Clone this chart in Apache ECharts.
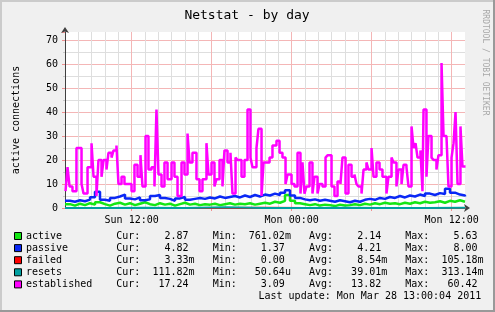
<!DOCTYPE html>
<html><head><meta charset="utf-8">
<script src="https://cdn.jsdelivr.net/npm/echarts@6/dist/echarts.min.js"></script>
<style>html,body{margin:0;padding:0;background:#f0f0f0}#c{width:495px;height:312px}</style>
</head><body><div id="c"></div>
<script>
// ---- data (hours since Sun 00:00) ----
const xLabelHours = [12, 24, 36];
const xLabels = ['Sun 12:00', 'Mon 00:00', 'Mon 12:00'];
const majorHours = [12, 18, 24, 30, 36];

const estTimes = [
 7.04,7.19,7.34,7.56,7.86,8.24,8.39,8.69,8.99,9.14,
 9.36,9.51,9.74,9.89,10.11,10.26,10.49,10.64,10.86,11.01,
 11.24,11.46,11.69,11.99,12.21,12.44,12.66,12.81,13.04,13.26,
 13.49,13.71,13.86,14.01,14.24,14.46,14.69,14.99,15.21,15.44,
 15.74,15.96,16.19,16.34,16.56,16.86,17.09,17.31,17.61,17.76,
 17.99,18.21,18.36,18.59,18.81,18.96,19.19,19.41,19.56,19.79,
 19.94,20.24,20.46,20.69,20.91,21.06,21.36,21.51,21.74,21.89,
 22.11,22.34,22.56,22.86,23.09,23.31,23.54,23.69,23.99,24.21,
 24.44,24.66,24.81,24.96,25.11,25.34,25.56,25.71,25.94,26.09,
 26.31,26.54,26.69,26.99,27.21,27.44,27.66,27.81,28.04,28.26,
 28.49,28.71,28.86,29.01,29.24,29.39,29.61,29.76,29.99,30.14,
 30.36,30.59,30.81,31.11,31.26,31.49,31.64,31.86,32.01,32.24,
 32.39,32.61,32.76,32.99,33.14,33.29,33.44,33.66,33.81,33.89,
 34.11,34.26,34.49,34.64,34.86,35.01,35.24,35.39,35.61,35.76,
 35.99,36.14,36.29,36.44,36.66,36.81,37.04
];
const established = [
 7,17,9,7,25,10,6,17,27,13,
 5,20,13,20,16,23,21,24,26,10,
 13,10,10,7,18,13,22,9,30,16,
 17,9,41,14,9,19,12,19,13,5,
 19,14,31,19,23,12,7,12,27,14,
 19,9,12,20,9,24,19,23,6,21,
 20,13,20,41,21,17,25,33,5,19,
 19,21,26,28,23,21,10,14,10,9,
 23,6,19,6,9,19,6,13,6,10,
 9,21,22,9,5,11,10,21,6,18,
 13,14,10,9,6,16,19,16,25,13,
 19,16,13,6,13,21,19,9,16,10,
 18,17,9,34,25,27,21,24,7,41,
 13,30,21,20,16,22,60.4,30,30,9,
 21,27,40,10,34,17.24,17.24
];
// passive / active sampled every 0.375 h from 7.0
const pa_start = 7.0, pa_step = 0.375;
const passive = [
 3.0,2.6,3.2,2.8,3.5,4.5,6.8,3.4,3.0,4.2,
 4.8,5.6,4.0,3.6,4.4,3.2,3.6,5.0,5.4,4.2,
 3.8,3.0,4.0,4.6,3.4,3.8,4.2,3.8,4.4,4.0,
 4.8,4.2,4.6,5.0,4.4,5.2,4.6,5.4,4.8,5.6,
 5.2,6.0,5.4,6.4,7.4,5.2,4.2,3.6,3.2,3.6,
 3.0,3.4,3.0,2.6,3.2,2.8,2.4,3.0,2.6,3.4,
 3.8,3.4,4.2,3.8,4.6,4.2,5.0,4.4,5.2,4.8,
 5.6,5.0,6.0,5.4,6.2,5.8,8.0,6.4,5.6,5.2,
 4.82
];
const active = [
 1.6,1.0,1.8,1.2,2.0,1.4,2.4,1.6,1.0,1.8,
 2.2,1.4,2.0,1.2,1.8,2.4,1.6,1.2,2.0,1.4,
 1.8,1.0,1.6,2.2,1.4,1.8,1.2,1.6,1.4,1.8,
 1.2,1.6,2.0,1.4,1.8,1.6,2.0,1.4,1.8,2.2,
 1.8,2.6,2.2,3.0,5.4,3.0,2.0,1.6,1.2,1.6,
 1.0,1.4,1.2,0.8,1.4,1.0,1.2,1.6,1.2,1.8,
 1.4,2.0,1.6,2.2,1.8,2.0,1.6,2.2,1.8,2.4,
 2.0,2.6,2.2,2.4,2.8,2.2,3.0,2.6,3.2,2.6,
 2.87
];
const fr_times = [7,10,13,16,19,22,25,28,31,34,37];
const failed = [0,0.01,0,0,0.02,0.1,0,0.01,0,0,0.003];
const resets = [0.02,0.05,0.1,0.03,0.31,0.04,0.02,0.06,0.03,0.05,0.11];

// legend table
const names = ['active','passive','failed','resets','established'];
const colors = ['#14e614','#0a28f5','#ff0000','#00a0a0','#ff00ff'];
const curV = ['2.87','4.82','3.33m','111.82m','17.24'];
const minV = ['761.02m','1.37','0.00','50.64u','3.09'];
const avgV = ['2.14','4.21','8.54m','39.01m','13.82'];
const maxV = ['5.63','8.00','105.18m','313.14m','60.42'];
const lastUpdate = 'Last update: Mon Mar 28 13:00:04 2011';

// ---- build ----
const MONO = "'DejaVu Sans Mono', monospace";
const yMax = 176 / 2.4;
const hourCats = []; for (let h = 7; h <= 37; h++) hourCats.push(String(h));
const pairs = (ts, vs) => vs.map((v, i) => [ts[i], v]);
const paTimes = passive.map((_, i) => pa_start + i * pa_step);

function fmt(s) {
  const last = s[s.length - 1];
  const hasSuf = /[a-z]/i.test(last);
  const num = hasSuf ? s.slice(0, -1) : s;
  return num.padStart(8) + (hasSuf ? last : ' ');
}
function row(i) {
  return names[i].padEnd(15) + 'Cur:' + fmt(curV[i]) + '   Min:' + fmt(minV[i]) +
    '   Avg:' + fmt(avgV[i]) + '   Max:' + fmt(maxV[i]);
}
function txt(x, y, text, o) {
  o = o || {};
  return { type: 'text', x: x, y: y, rotation: o.rot || 0, silent: true, z: 100,
    style: { text: text, fill: o.fill || '#000', fontSize: o.size || 10, fontFamily: MONO,
      textAlign: o.align || 'left', align: o.align || 'left',
      textVerticalAlign: 'middle', verticalAlign: 'middle' } };
}
const gfx = [
  { type: 'rect', shape: { x: 0, y: 0, width: 495, height: 2 }, style: { fill: '#cbcbcb' }, silent: true },
  { type: 'rect', shape: { x: 0, y: 0, width: 2, height: 312 }, style: { fill: '#cbcbcb' }, silent: true },
  { type: 'rect', shape: { x: 0, y: 310, width: 495, height: 2 }, style: { fill: '#999999' }, silent: true },
  { type: 'rect', shape: { x: 493, y: 0, width: 2, height: 312 }, style: { fill: '#999999' }, silent: true },
  txt(247, 16, 'Netstat - by day', { align: 'center', size: 13 }),
  txt(16, 120, 'active connections', { align: 'center', rot: Math.PI / 2 }),
  txt(485, 62.5, 'RRDTOOL / TOBI OETIKER', { align: 'center', rot: -Math.PI / 2, size: 8, fill: '#a8a8a8' }),
  txt(258.5, 296.5, lastUpdate)
];
for (let i = 0; i < names.length; i++) {
  const y = 236 + 12.1 * i;
  gfx.push({ type: 'rect', shape: { x: 14.5, y: y - 3.5, width: 7, height: 7 },
    style: { fill: colors[i], stroke: '#000', lineWidth: 1 }, silent: true, z: 100 });
  gfx.push(txt(26, y, row(i)));
}

const mk = (name, data, color, step, w) => ({
  name: name, type: 'line', data: data, step: step || false, showSymbol: false,
  xAxisIndex: 0, yAxisIndex: 0, lineStyle: { color: color, width: w || 2 }, itemStyle: { color: color },
  emphasis: { disabled: true }, clip: true
});

const option = {
  animation: false,
  backgroundColor: '#f0f0f0',
  grid: { left: 65, top: 32, width: 400, height: 176, show: true, backgroundColor: '#ffffff', borderWidth: 0 },
  xAxis: [
    { type: 'value', min: 7, max: 37, interval: 1, position: 'bottom',
      axisLine: { show: true, onZero: false, lineStyle: { color: '#404040', width: 1 }, symbol: ['none', 'arrow'], symbolSize: [6, 6], symbolOffset: [0, 5] },
      axisTick: { show: false }, axisLabel: { show: false },
      splitLine: { show: true, showMaxLine: false, lineStyle: { color: '#dedede', width: 1 } } },
    { type: 'category', data: hourCats, boundaryGap: false, position: 'bottom',
      axisLine: { show: false },
      axisTick: { show: true, length: 3, interval: (i, v) => majorHours.includes(+v), lineStyle: { color: '#f09090' } },
      axisLabel: { interval: (i, v) => xLabelHours.includes(+v), formatter: v => xLabels[xLabelHours.indexOf(+v)] || '',
        fontFamily: MONO, fontSize: 10, color: '#000', margin: 7 },
      splitLine: { show: true, interval: (i, v) => majorHours.includes(+v), lineStyle: { color: '#f4b6b6', width: 1 } } }
  ],
  yAxis: [
    { type: 'value', min: 0, max: yMax, interval: 5, position: 'left',
      axisLine: { show: true, onZero: false, lineStyle: { color: '#404040', width: 1 }, symbol: ['none', 'arrow'], symbolSize: [6, 6], symbolOffset: [0, 5] },
      axisTick: { show: true, length: 2, lineStyle: { color: '#c8c8c8' } }, axisLabel: { show: false },
      splitLine: { show: true, showMaxLine: false, lineStyle: { color: '#dedede', width: 1 } } },
    { type: 'value', min: 0, max: yMax, interval: 10, position: 'left',
      axisLine: { show: false },
      axisTick: { show: true, length: 3, lineStyle: { color: '#f09090' } },
      axisLabel: { fontFamily: MONO, fontSize: 10, color: '#000', margin: 7,
        formatter: v => (Math.abs(v % 10) < 1e-6 ? String(Math.round(v)) : '') },
      splitLine: { show: true, showMaxLine: false, showMinLine: false, lineStyle: { color: '#f4b6b6', width: 1 } } }
  ],
  series: [
    mk('active', pairs(paTimes, active), colors[0], 'end', 2.5),
    mk('passive', pairs(paTimes, passive), colors[1], 'end', 2.5),
    mk('failed', pairs(fr_times, failed), colors[2]),
    mk('resets', pairs(fr_times, resets), colors[3]),
    mk('established', pairs(estTimes, established), colors[4], 'end', 2.5)
  ],
  graphic: { elements: gfx }
};
const chart = echarts.init(document.getElementById('c'), null, { renderer: 'canvas' });
chart.setOption(option);
</script></body></html>
